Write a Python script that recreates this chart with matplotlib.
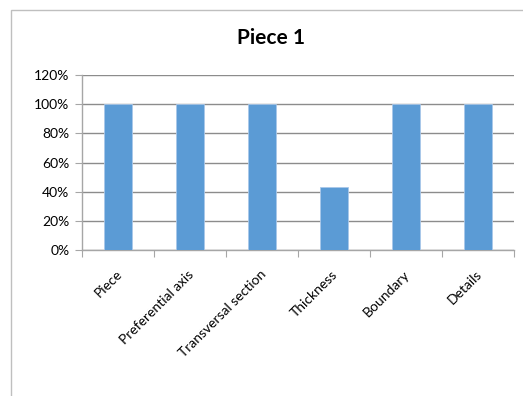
import matplotlib
matplotlib.use("Agg")
import matplotlib.pyplot as plt
from matplotlib.patches import Rectangle
from matplotlib.ticker import FuncFormatter, FixedLocator
import matplotlib.transforms as mtransforms

categories = ["Piece", "Preferential axis", "Transversal section", "Thickness", "Boundary", "Details"]
values = [1.00, 1.00, 1.00, 0.43, 1.00, 1.00]
yticks = [0.0, 0.2, 0.4, 0.6, 0.8, 1.0, 1.2]
title = "Piece 1"

plt.rcParams['font.family'] = ['Lato', 'DejaVu Sans']

W, H = 523, 396
fig = plt.figure(figsize=(W / 100, H / 100), dpi=100)
fig.patch.set_facecolor('white')

# chart border (extends beyond right / bottom edge)
fig.patches.append(Rectangle((11 / W, -0.1), 1.2, 1 - 10 / H + 0.1, transform=fig.transFigure,
                             fill=False, edgecolor='#BFBFBF', linewidth=1.0))

ax = fig.add_axes([82 / W, 1 - 250 / H, (513.5 - 82) / W, (250 - 75) / H])
x = list(range(len(categories)))
ax.bar(x, values, width=0.39, color='#5B9BD5', edgecolor='#A9C8EA', linewidth=0.6, zorder=3)

ax.set_xlim(-0.5, len(categories) - 0.5)
ax.set_ylim(0, 1.2)
ax.set_yticks(yticks)
ax.yaxis.set_major_formatter(FuncFormatter(lambda v, p: f"{v*100:.0f}%"))
ax.grid(axis='y', color='#8C8C8C', linewidth=1.0, zorder=0)
ax.set_axisbelow(True)

for s in ['top', 'right']:
    ax.spines[s].set_visible(False)
ax.spines['left'].set_color('#A6A6A6')
ax.spines['bottom'].set_color('#A6A6A6')
ax.spines['left'].set_linewidth(1.0)
ax.spines['bottom'].set_linewidth(1.0)

ax.tick_params(axis='y', length=5, color='#A6A6A6', labelsize=10, pad=4, labelcolor='black')
# category boundary ticks on x
ax.xaxis.set_major_locator(FixedLocator([i - 0.5 for i in range(len(categories) + 1)]))
ax.xaxis.set_major_formatter(FuncFormatter(lambda v, p: ""))
ax.tick_params(axis='x', which='major', length=5, color='#A6A6A6')
ax.set_xticks(x, minor=True)
labels = ax.set_xticklabels(categories, minor=True, rotation=45, ha='right', va='center',
                            rotation_mode='anchor', fontsize=10)
ax.tick_params(axis='x', which='minor', length=0, pad=16)
shift = mtransforms.ScaledTranslation(2 / 100, 0, fig.dpi_scale_trans)
for lab in ax.get_xticklabels(minor=True):
    lab.set_transform(lab.get_transform() + shift)

fig.text(271 / W, 1 - 38 / H, title, ha='center', va='center', fontsize=15, fontweight='bold')

fig.savefig("out.png", dpi=100)
